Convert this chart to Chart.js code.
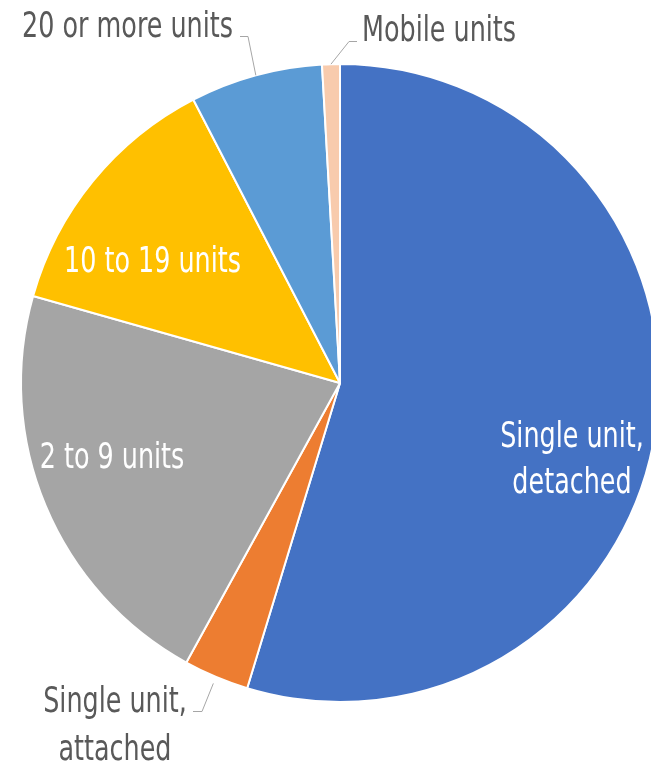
<!DOCTYPE html>
<html><head><meta charset="utf-8">
<script src="https://cdn.jsdelivr.net/npm/chart.js@4"></script>
<style>html,body{margin:0;padding:0;background:#fff;overflow:hidden}
#wrap{width:651px;height:767px;overflow:hidden;position:relative}
canvas{display:block}</style></head><body>
<div id="wrap"><canvas id="c" width="700" height="767"></canvas></div>
<script>
// ---- data ----
const categories = ["Single unit, detached","Single unit, attached","2 to 9 units","10 to 19 units","20 or more units","Mobile units"];
const shares = [54.7, 3.3, 21.4, 13.0, 6.7, 0.9];
const sliceColors = ["#4472C4","#ED7D31","#A5A5A5","#FFC000","#5B9BD5","#F8CBAD"];
const labelLines = [["Single unit,","detached"],["Single unit,","attached"],["2 to 9 units"],["10 to 19 units"],["20 or more units"],["Mobile units"]];

// ---- label layout (text placement only) ----
const labelLayout = [
  {x:572, y:447, align:"center", color:"#FFFFFF", gap:46},
  {x:115, y:712, align:"center", color:"#595959", gap:48, leader:{x1:193, x2:202, y:711, extra:7}},
  {x:112, y:468, align:"center", color:"#FFFFFF", gap:46},
  {x:152.5, y:272, align:"center", color:"#FFFFFF", gap:46},
  {x:233, y:37, align:"right", color:"#595959", gap:46, leader:{x1:240, x2:248, y:36, extra:0}},
  {x:362, y:41, align:"left", color:"#595959", gap:46, leader:{x1:357, x2:349, y:41, extra:0}}
];
const FONT = '35px "DejaVu Sans Condensed", "DejaVu Sans", sans-serif';
const REF_TEXT = "20 or more units", REF_WIDTH = 211;

const labelPlugin = {
  id: "sliceLabels",
  afterDatasetsDraw(chart) {
    const ctx = chart.ctx;
    const meta = chart.getDatasetMeta(0);
    ctx.save();
    ctx.font = FONT;
    ctx.textBaseline = "alphabetic";
    const f = REF_WIDTH / ctx.measureText(REF_TEXT).width;
    meta.data.forEach((arc, i) => {
      const L = labelLayout[i];
      const p = arc.getProps(["x","y","startAngle","endAngle","outerRadius"], true);
      if (L.leader) {
        const mid = (p.startAngle + p.endAngle) / 2;
        const r = p.outerRadius + L.leader.extra;
        const ex = p.x + Math.cos(mid) * r;
        const ey = p.y + Math.sin(mid) * r;
        ctx.strokeStyle = "#A6A6A6";
        ctx.lineWidth = 1;
        ctx.beginPath();
        ctx.moveTo(L.leader.x1, L.leader.y + 0.5);
        ctx.lineTo(L.leader.x2, L.leader.y + 0.5);
        ctx.lineTo(ex, ey);
        ctx.stroke();
      }
      ctx.fillStyle = L.color;
      ctx.textAlign = L.align;
      labelLines[i].forEach((t, k) => {
        ctx.save();
        ctx.translate(L.x, L.y + k * L.gap);
        ctx.scale(f, 1);
        ctx.fillText(t, 0, 0);
        ctx.restore();
      });
    });
    ctx.restore();
  }
};

new Chart(document.getElementById("c"), {
  type: "pie",
  data: {
    labels: categories,
    datasets: [{
      data: shares,
      backgroundColor: sliceColors,
      borderColor: "#FFFFFF",
      borderWidth: 2
    }]
  },
  options: {
    responsive: false,
    animation: false,
    devicePixelRatio: 1,
    layout: { padding: { left: 20, top: 63, right: 40, bottom: 64 } },
    plugins: { legend: { display: false }, tooltip: { enabled: false } }
  },
  plugins: [labelPlugin]
});
</script>
</body></html>
